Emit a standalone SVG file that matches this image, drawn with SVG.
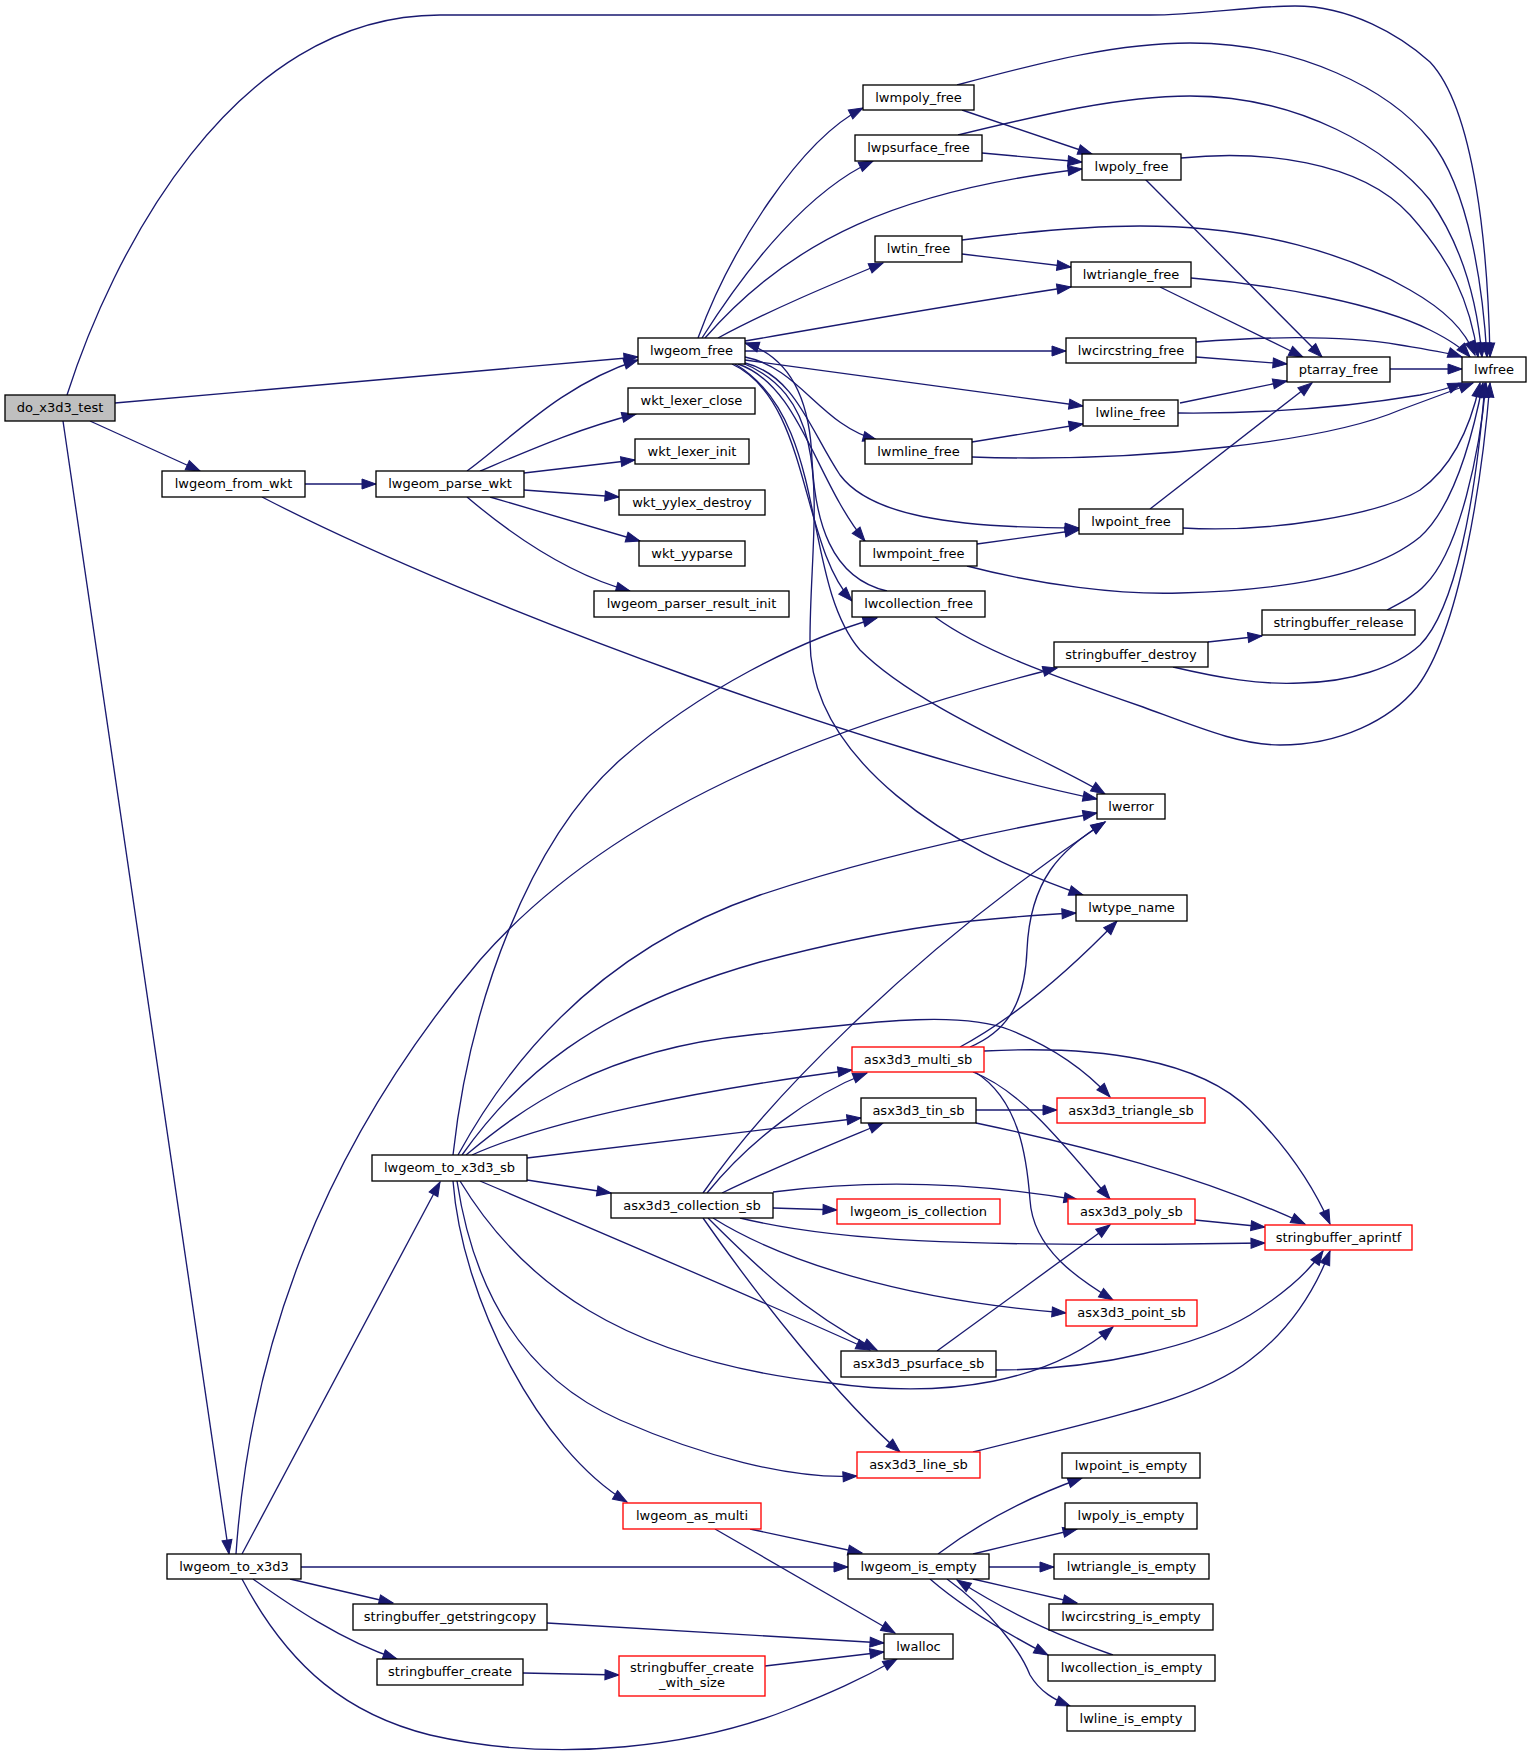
<svg xmlns="http://www.w3.org/2000/svg" width="1531" height="1757" viewBox="0 0 1531 1757">
<defs>
<marker id="a" markerUnits="userSpaceOnUse" markerWidth="15" markerHeight="11" refX="14" refY="5" orient="auto" overflow="visible">
<path d="M0,0 L14,5 L0,10 z" fill="#191970" stroke="#191970" stroke-width="1"/>
</marker>
<style>
.n rect{fill:#fff;stroke:#000;stroke-width:1.33}
.n.r rect{stroke:#ff0000}
.n.g rect{fill:#bfbfbf}
text{font-family:"DejaVu Sans",sans-serif;font-size:13px;text-anchor:middle;fill:#000}
#edges path{fill:none;stroke:#191970;stroke-width:1.33;marker-end:url(#a)}
</style>
</defs>
<rect width="1531" height="1757" fill="#fff"/>
<g id="edges">
<path d="M67,395 C110,260 230,15 440,15 L1150,15 C1200,15 1250,6 1295,6 C1350,6 1400,35 1430,62 C1475,110 1488,250 1490,357"/>
<path d="M115,403 L638,357"/>
<path d="M90,421 L200,471"/>
<path d="M63,421 L229,1554"/>
<path d="M305,484 L376,484"/>
<path d="M262,497 C480,610 900,760 1097,799"/>
<path d="M467,471 C510,440 560,385 638,360"/>
<path d="M480,471 C530,450 580,428 636,414"/>
<path d="M524,473 L635,460"/>
<path d="M524,490 L619,497"/>
<path d="M490,497 L640,541"/>
<path d="M467,497 C500,525 560,572 630,591"/>
<path d="M698,338 C730,250 800,140 863,108"/>
<path d="M702,338 C750,262 810,190 873,161"/>
<path d="M705,338 C790,240 900,190 1082,169"/>
<path d="M718,338 C770,310 830,285 883,263"/>
<path d="M745,341 C850,323 960,303 1071,287"/>
<path d="M745,351 L1066,351"/>
<path d="M745,360 L1083,406"/>
<path d="M745,357 C800,368 820,425 877,440"/>
<path d="M745,363 C795,375 810,430 840,475 C870,515 950,528 1079,528"/>
<path d="M738,364 C800,385 815,480 865,541"/>
<path d="M732,364 C810,400 800,545 852,601"/>
<path d="M887,591 C830,578 815,520 812,460 C810,400 790,357 745,343"/>
<path d="M735,364 C830,420 800,580 860,650 C920,710 1050,760 1105,794"/>
<path d="M740,362 C840,400 810,520 810,640 C810,760 950,850 1083,895"/>
<path d="M957,85 C1050,60 1120,43 1190,43 C1300,43 1390,90 1430,140 C1470,190 1483,290 1487,357"/>
<path d="M962,110 L1092,154"/>
<path d="M958,135 C1040,115 1120,96 1190,96 C1300,96 1390,150 1430,200 C1465,250 1478,310 1482,357"/>
<path d="M982,153 L1082,162"/>
<path d="M1181,158 C1260,150 1360,160 1410,215 C1450,260 1470,300 1478,357"/>
<path d="M1145,179 L1322,357"/>
<path d="M962,240 C1040,230 1090,226 1140,226 C1260,226 1350,255 1410,290 C1445,310 1465,330 1475,355"/>
<path d="M962,254 L1071,267"/>
<path d="M1191,278 C1280,285 1380,305 1430,330 C1450,340 1462,348 1470,357"/>
<path d="M1160,287 L1303,357"/>
<path d="M1196,342 C1260,337 1340,335 1400,345 C1430,350 1450,353 1462,357"/>
<path d="M1196,357 L1287,364"/>
<path d="M1390,369 L1462,369"/>
<path d="M1180,403 L1287,381"/>
<path d="M1178,413 C1280,414 1360,405 1420,395 C1440,391 1452,387 1462,383"/>
<path d="M972,442 L1083,424"/>
<path d="M972,457 C1150,463 1330,440 1400,410 C1440,395 1460,388 1473,383"/>
<path d="M1150,509 L1312,383"/>
<path d="M1183,528 C1270,533 1380,515 1420,490 C1455,465 1472,420 1480,383"/>
<path d="M977,544 L1079,530"/>
<path d="M967,566 C1040,585 1120,595 1180,593 C1300,590 1380,570 1420,537 C1450,510 1470,450 1483,383"/>
<path d="M935,617 C980,650 1050,675 1143,707 C1200,728 1240,745 1280,745 C1340,745 1390,720 1417,687 C1460,630 1482,480 1490,383"/>
<path d="M1387,610 C1400,603 1415,596 1425,585 C1460,550 1480,450 1486,383"/>
<path d="M1208,642 L1262,636"/>
<path d="M1173,667 C1220,678 1260,685 1300,683 C1350,682 1395,668 1420,645 C1455,610 1476,500 1485,383"/>
<path d="M453,1155 C470,1000 530,840 620,760 C700,690 800,640 877,618"/>
<path d="M236,1554 C250,1350 320,1150 480,960 C620,800 850,720 1057,668"/>
<path d="M458,1155 C510,1060 600,950 760,895 C880,855 1000,830 1097,813"/>
<path d="M462,1155 C515,1080 590,1010 760,962 C900,925 980,918 1076,913"/>
<path d="M466,1155 C520,1110 600,1050 750,1035 C870,1022 960,1010 1010,1030 C1060,1050 1090,1075 1110,1097"/>
<path d="M472,1155 C550,1120 700,1090 852,1070"/>
<path d="M527,1158 L861,1118"/>
<path d="M527,1180 L611,1193"/>
<path d="M480,1181 C600,1232 760,1300 870,1350"/>
<path d="M460,1181 C520,1280 620,1360 830,1383 C950,1400 1050,1380 1113,1327"/>
<path d="M457,1181 C475,1300 530,1380 620,1420 C700,1455 790,1480 857,1476"/>
<path d="M453,1181 C462,1300 540,1450 627,1502"/>
<path d="M242,1554 L440,1182"/>
<path d="M301,1567 L848,1567"/>
<path d="M290,1579 L393,1603"/>
<path d="M253,1579 C290,1605 340,1640 397,1659"/>
<path d="M242,1579 C290,1670 350,1715 430,1735 C560,1765 700,1745 790,1709 C830,1693 860,1680 897,1659"/>
<path d="M750,1529 L862,1553"/>
<path d="M715,1529 L895,1633"/>
<path d="M938,1554 C970,1530 1020,1500 1082,1478"/>
<path d="M973,1554 L1077,1529"/>
<path d="M989,1567 L1054,1567"/>
<path d="M973,1579 L1077,1603"/>
<path d="M930,1579 C960,1605 1000,1630 1048,1655"/>
<path d="M947,1579 C990,1610 1020,1650 1030,1675 C1040,1692 1055,1700 1070,1706"/>
<path d="M1113,1655 C1070,1640 1020,1620 957,1580"/>
<path d="M547,1623 L884,1643"/>
<path d="M523,1673 L619,1675"/>
<path d="M765,1666 L884,1652"/>
<path d="M703,1193 C760,1110 900,960 1105,822"/>
<path d="M707,1193 C750,1140 810,1095 867,1073"/>
<path d="M722,1193 C780,1165 830,1145 883,1123"/>
<path d="M773,1192 C850,1182 950,1178 1078,1200"/>
<path d="M773,1208 L837,1210"/>
<path d="M740,1218 C830,1240 950,1248 1265,1243"/>
<path d="M713,1218 C780,1260 900,1300 1066,1313"/>
<path d="M708,1218 C750,1260 800,1310 877,1350"/>
<path d="M703,1218 C760,1300 840,1400 900,1452"/>
<path d="M970,1047 C1010,1030 1025,1000 1027,950 C1030,880 1060,850 1105,822"/>
<path d="M960,1047 C1010,1020 1060,980 1117,921"/>
<path d="M984,1051 C1100,1045 1200,1060 1250,1110 C1290,1150 1315,1190 1330,1224"/>
<path d="M973,1072 C1020,1090 1060,1140 1110,1199"/>
<path d="M975,1072 C1020,1100 1027,1160 1030,1200 C1033,1250 1080,1280 1113,1300"/>
<path d="M976,1110 L1057,1110"/>
<path d="M976,1123 C1080,1145 1200,1175 1305,1224"/>
<path d="M1195,1220 L1265,1227"/>
<path d="M937,1351 L1110,1225"/>
<path d="M996,1370 C1100,1370 1200,1345 1250,1315 C1290,1290 1310,1270 1323,1251"/>
<path d="M973,1452 C1100,1420 1200,1400 1250,1360 C1290,1330 1315,1290 1330,1251"/>
</g>
<g id="do_x3d3_test" class="n g"><rect x="5" y="395" width="110" height="26"/><text x="60" y="412">do_x3d3_test</text></g>
<g id="lwgeom_free" class="n"><rect x="638" y="338" width="107" height="26"/><text x="691.5" y="355">lwgeom_free</text></g>
<g id="lwmpoly_free" class="n"><rect x="863" y="85" width="111" height="25"/><text x="918.5" y="101.5">lwmpoly_free</text></g>
<g id="lwpsurface_free" class="n"><rect x="855" y="135" width="127" height="26"/><text x="918.5" y="152">lwpsurface_free</text></g>
<g id="lwtin_free" class="n"><rect x="875" y="236" width="87" height="26"/><text x="918.5" y="253">lwtin_free</text></g>
<g id="lwpoly_free" class="n"><rect x="1082" y="154" width="99" height="26"/><text x="1131.5" y="171">lwpoly_free</text></g>
<g id="lwtriangle_free" class="n"><rect x="1071" y="262" width="120" height="25"/><text x="1131" y="278.5">lwtriangle_free</text></g>
<g id="lwcircstring_free" class="n"><rect x="1066" y="338" width="130" height="25"/><text x="1131" y="354.5">lwcircstring_free</text></g>
<g id="ptarray_free" class="n"><rect x="1287" y="357" width="103" height="25"/><text x="1338.5" y="373.5">ptarray_free</text></g>
<g id="lwfree" class="n"><rect x="1462" y="357" width="64" height="25"/><text x="1494" y="373.5">lwfree</text></g>
<g id="lwline_free" class="n"><rect x="1083" y="400" width="95" height="26"/><text x="1130.5" y="417">lwline_free</text></g>
<g id="wkt_lexer_close" class="n"><rect x="628" y="388" width="127" height="26"/><text x="691.5" y="405">wkt_lexer_close</text></g>
<g id="wkt_lexer_init" class="n"><rect x="635" y="439" width="114" height="25"/><text x="692" y="455.5">wkt_lexer_init</text></g>
<g id="lwgeom_from_wkt" class="n"><rect x="162" y="471" width="143" height="26"/><text x="233.5" y="488">lwgeom_from_wkt</text></g>
<g id="lwgeom_parse_wkt" class="n"><rect x="376" y="471" width="148" height="26"/><text x="450" y="488">lwgeom_parse_wkt</text></g>
<g id="wkt_yylex_destroy" class="n"><rect x="619" y="490" width="146" height="25"/><text x="692" y="506.5">wkt_yylex_destroy</text></g>
<g id="wkt_yyparse" class="n"><rect x="639" y="541" width="106" height="25"/><text x="692" y="557.5">wkt_yyparse</text></g>
<g id="lwgeom_parser_result_init" class="n"><rect x="594" y="591" width="195" height="26"/><text x="691.5" y="608">lwgeom_parser_result_init</text></g>
<g id="lwmline_free" class="n"><rect x="865" y="439" width="107" height="25"/><text x="918.5" y="455.5">lwmline_free</text></g>
<g id="lwmpoint_free" class="n"><rect x="860" y="541" width="117" height="25"/><text x="918.5" y="557.5">lwmpoint_free</text></g>
<g id="lwcollection_free" class="n"><rect x="852" y="591" width="133" height="26"/><text x="918.5" y="608">lwcollection_free</text></g>
<g id="lwpoint_free" class="n"><rect x="1079" y="509" width="104" height="25"/><text x="1131" y="525.5">lwpoint_free</text></g>
<g id="stringbuffer_release" class="n"><rect x="1262" y="610" width="153" height="25"/><text x="1338.5" y="626.5">stringbuffer_release</text></g>
<g id="stringbuffer_destroy" class="n"><rect x="1054" y="642" width="154" height="25"/><text x="1131" y="658.5">stringbuffer_destroy</text></g>
<g id="lwerror" class="n"><rect x="1097" y="794" width="68" height="25"/><text x="1131" y="810.5">lwerror</text></g>
<g id="lwtype_name" class="n"><rect x="1076" y="895" width="111" height="26"/><text x="1131.5" y="912">lwtype_name</text></g>
<g id="lwgeom_to_x3d3_sb" class="n"><rect x="372" y="1155" width="155" height="26"/><text x="449.5" y="1172">lwgeom_to_x3d3_sb</text></g>
<g id="asx3d3_multi_sb" class="n r"><rect x="852" y="1047" width="132" height="25"/><text x="918" y="1063.5">asx3d3_multi_sb</text></g>
<g id="asx3d3_tin_sb" class="n"><rect x="861" y="1098" width="115" height="25"/><text x="918.5" y="1114.5">asx3d3_tin_sb</text></g>
<g id="asx3d3_triangle_sb" class="n r"><rect x="1057" y="1098" width="148" height="25"/><text x="1131" y="1114.5">asx3d3_triangle_sb</text></g>
<g id="asx3d3_collection_sb" class="n"><rect x="611" y="1193" width="162" height="25"/><text x="692" y="1209.5">asx3d3_collection_sb</text></g>
<g id="lwgeom_is_collection" class="n r"><rect x="837" y="1199" width="163" height="25"/><text x="918.5" y="1215.5">lwgeom_is_collection</text></g>
<g id="asx3d3_poly_sb" class="n r"><rect x="1068" y="1199" width="127" height="25"/><text x="1131.5" y="1215.5">asx3d3_poly_sb</text></g>
<g id="stringbuffer_aprintf" class="n r"><rect x="1265" y="1225" width="147" height="25"/><text x="1338.5" y="1241.5">stringbuffer_aprintf</text></g>
<g id="asx3d3_point_sb" class="n r"><rect x="1066" y="1300" width="131" height="26"/><text x="1131.5" y="1317">asx3d3_point_sb</text></g>
<g id="asx3d3_psurface_sb" class="n"><rect x="841" y="1351" width="155" height="26"/><text x="918.5" y="1368">asx3d3_psurface_sb</text></g>
<g id="asx3d3_line_sb" class="n r"><rect x="857" y="1452" width="123" height="26"/><text x="918.5" y="1469">asx3d3_line_sb</text></g>
<g id="lwgeom_as_multi" class="n r"><rect x="623" y="1503" width="138" height="26"/><text x="692" y="1520">lwgeom_as_multi</text></g>
<g id="lwgeom_is_empty" class="n"><rect x="848" y="1554" width="141" height="25"/><text x="918.5" y="1570.5">lwgeom_is_empty</text></g>
<g id="lwalloc" class="n"><rect x="884" y="1634" width="69" height="25"/><text x="918.5" y="1650.5">lwalloc</text></g>
<g id="stringbuffer_create_with_size" class="n r"><rect x="619" y="1656" width="146" height="40"/><text x="692" y="1672">stringbuffer_create</text><text x="692" y="1687">_with_size</text></g>
<g id="lwgeom_to_x3d3" class="n"><rect x="167" y="1554" width="134" height="25"/><text x="234" y="1570.5">lwgeom_to_x3d3</text></g>
<g id="stringbuffer_getstringcopy" class="n"><rect x="353" y="1604" width="194" height="26"/><text x="450" y="1621">stringbuffer_getstringcopy</text></g>
<g id="stringbuffer_create" class="n"><rect x="377" y="1659" width="146" height="26"/><text x="450" y="1676">stringbuffer_create</text></g>
<g id="lwpoint_is_empty" class="n"><rect x="1062" y="1453" width="138" height="25"/><text x="1131" y="1469.5">lwpoint_is_empty</text></g>
<g id="lwpoly_is_empty" class="n"><rect x="1065" y="1503" width="132" height="26"/><text x="1131" y="1520">lwpoly_is_empty</text></g>
<g id="lwtriangle_is_empty" class="n"><rect x="1054" y="1554" width="155" height="25"/><text x="1131.5" y="1570.5">lwtriangle_is_empty</text></g>
<g id="lwcircstring_is_empty" class="n"><rect x="1049" y="1604" width="164" height="26"/><text x="1131" y="1621">lwcircstring_is_empty</text></g>
<g id="lwcollection_is_empty" class="n"><rect x="1048" y="1655" width="167" height="26"/><text x="1131.5" y="1672">lwcollection_is_empty</text></g>
<g id="lwline_is_empty" class="n"><rect x="1067" y="1706" width="128" height="25"/><text x="1131" y="1722.5">lwline_is_empty</text></g>
</svg>
